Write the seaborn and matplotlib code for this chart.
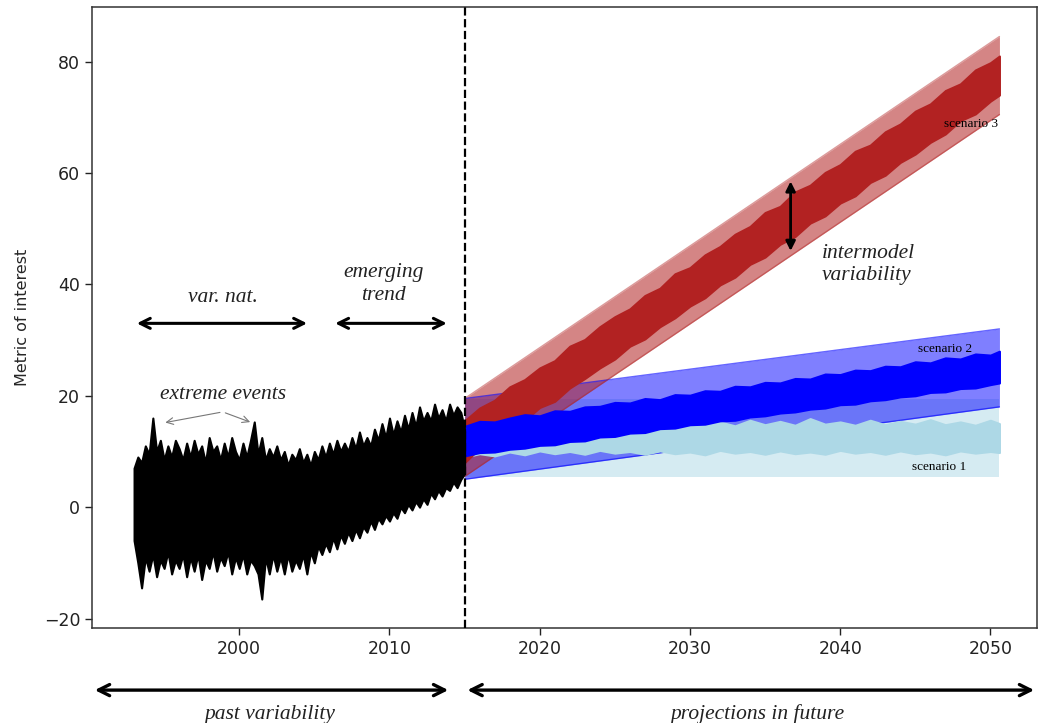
import numpy as np
import pandas as pd
import matplotlib
matplotlib.use("Agg")
import matplotlib.pyplot as plt
import seaborn as sns

# ---------------- data ----------------
# past series: upper / lower envelope every quarter year, 1993.00 .. 2015.00
past_years = np.arange(1993.0, 2015.001, 0.25)
past_hi = [7, 9, 8, 11, 9.5, 16, 10, 12, 8.5, 11, 9, 12,
           10.5, 8.5, 11.5, 9, 12, 9.5, 11, 8, 12.5, 10, 11, 8.5,
           11.5, 9, 12.5, 10, 8.5, 11.5, 9, 12, 15.3, 9.5, 12.5, 8.5,
           10.5, 9, 11, 8.5, 10, 7.5, 9.5, 8.5, 10.5, 8, 9.5, 7.5,
           10, 8.5, 11, 9, 11.5, 9.5, 12, 10, 11.5, 10, 12.5, 10.5,
           13.5, 11, 12.5, 11, 14, 12, 15, 12.5, 16, 13, 15.5, 13.5,
           16.5, 14, 17, 14.5, 18, 15.5, 17, 15.5, 18.5, 16, 17.5, 15.5,
           18.5, 16.5, 18, 17, 14]
past_lo = [-6, -10, -14.5, -9, -11.5, -8.5, -12.5, -9.5, -11, -8, -12, -9.5,
           -11, -8.5, -12.5, -9, -11.5, -8.5, -13, -9.5, -11, -8, -11.5, -9,
           -10.5, -8, -12, -9, -11, -8.5, -12, -9.5, -10.5, -12, -16.5, -9,
           -12, -8.5, -11.5, -9, -12, -8.5, -11.5, -9.5, -11, -8.5, -12, -8,
           -10, -7, -8.5, -6.5, -8, -5.5, -7.5, -5, -6.5, -4.5, -6, -4,
           -5.5, -3.5, -4.5, -2.5, -4, -2, -3, -1.5, -2.5, -1, -2, 0,
           -1, 0.5, -0.5, 1, 0, 1.5, 0.5, 2.5, 1.5, 3, 2, 3.5,
           3, 4.5, 3.5, 5, 6]

scen_years = [2015, 2016, 2017, 2018, 2019, 2020, 2021, 2022, 2023, 2024,
              2025, 2026, 2027, 2028, 2029, 2030, 2031, 2032, 2033, 2034,
              2035, 2036, 2037, 2038, 2039, 2040, 2041, 2042, 2043, 2044,
              2045, 2046, 2047, 2048, 2049, 2050, 2050.6]

s3_hi = [15.5, 17.8, 19.2, 21.6, 22.9, 25.0, 26.3, 28.9, 30.1, 32.4, 34.2, 35.6, 38.0, 39.3,
         41.9, 43.0, 45.3, 46.8, 49.0, 50.4, 52.9, 54.0, 56.6, 57.8, 60.1, 61.5, 63.9, 65.0,
         67.4, 68.8, 71.1, 72.4, 74.8, 76.0, 78.5, 79.8, 81.0]
s3_lo = [8.0, 10.6, 11.9, 14.2, 15.6, 17.9, 19.0, 21.4, 23.1, 25.0, 26.6, 28.9, 30.2, 32.4,
         34.0, 36.1, 37.6, 39.9, 41.3, 43.6, 44.9, 47.2, 48.6, 51.0, 52.3, 54.6, 55.9, 58.3,
         59.6, 61.9, 63.4, 65.5, 67.0, 69.4, 70.6, 72.9, 74.0]

s2_hi = [14.5, 15.4, 15.3, 16.0, 16.6, 16.4, 17.3, 17.2, 18.0, 18.1, 18.8, 18.7, 19.5, 19.3,
         20.2, 20.1, 20.9, 20.8, 21.7, 21.6, 22.4, 22.3, 23.1, 23.0, 23.9, 23.8, 24.6, 24.5,
         25.3, 25.2, 26.1, 25.9, 26.8, 26.6, 27.5, 27.3, 28.0]
s2_lo = [9.2, 9.8, 9.9, 10.4, 10.6, 11.1, 11.2, 11.8, 11.9, 12.6, 12.7, 13.3, 13.4, 14.1,
         14.2, 14.8, 14.9, 15.5, 15.6, 16.2, 16.4, 16.9, 17.1, 17.6, 17.8, 18.4, 18.5, 19.1,
         19.3, 19.8, 20.0, 20.6, 20.7, 21.3, 21.4, 22.0, 22.3]

s1_hi = [12.5, 13.8, 13.2, 14.6, 14.0, 15.2, 14.5, 15.6, 14.8, 15.3, 14.6, 15.7, 14.9, 15.4,
         14.7, 15.8, 14.9, 15.3, 14.6, 15.6, 14.8, 15.4, 14.7, 15.9, 14.9, 15.3, 14.7, 15.6,
         14.8, 15.4, 14.9, 15.7, 14.8, 15.3, 14.7, 15.6, 15.0]
s1_lo = [9.0, 9.6, 9.2, 9.9, 9.4, 10.1, 9.6, 10.0, 9.5, 10.2, 9.7, 10.0, 9.5, 10.1,
         9.6, 9.9, 9.4, 10.2, 9.7, 10.0, 9.5, 10.1, 9.6, 9.9, 9.5, 10.2, 9.7, 10.0,
         9.5, 10.1, 9.6, 9.9, 9.4, 10.1, 9.7, 10.0, 9.8]

band_years = [2015, 2050.6]
s3_band_lo = [5.5, 70.5]
s3_band_hi = [19.5, 84.5]
s2_band_lo = [5.0, 18.0]
s2_band_hi = [19.5, 32.0]
s1_band_lo = [5.5, 5.5]
s1_band_hi = [19.5, 19.5]

x_ticks = [2000, 2010, 2020, 2030, 2040, 2050]
y_ticks = [-20, 0, 20, 40, 60, 80]
split_year = 2015

# ---------------- figure ----------------
sns.set_theme(style="ticks")
plt.rcParams['font.family'] = ['DejaVu Sans']
serif = ['Liberation Serif', 'DejaVu Serif']

fig = plt.figure(figsize=(10.39, 7.23), dpi=100)
ax = fig.add_axes([92 / 1039, 95 / 723, 945 / 1039, 621 / 723])

# bands (fills)
ax.fill_between(band_years, s1_band_lo, s1_band_hi, color="lightblue", alpha=0.5, lw=0, zorder=1)
ax.fill_between(band_years, s2_band_lo, s2_band_hi, color="blue", alpha=0.5, lw=0, zorder=2)
ax.fill_between(band_years, s3_band_lo, s3_band_hi, color="firebrick", alpha=0.55, lw=0, zorder=3)
# band edges via seaborn
for lo, hi, c, a in [(s2_band_lo, s2_band_hi, "blue", 0.6), (s3_band_lo, s3_band_hi, "firebrick", 0.45)]:
    sns.lineplot(x=band_years, y=lo, color=c, alpha=a, lw=1, ax=ax, zorder=3)
    sns.lineplot(x=band_years, y=hi, color=c, alpha=a, lw=1, ax=ax, zorder=3)

# noisy scenario lines (envelopes)
ax.fill_between(scen_years, s1_lo, s1_hi, color="lightblue", lw=1.5,
                edgecolor="lightblue", zorder=4)
ax.fill_between(scen_years, s3_lo, s3_hi, color="firebrick", lw=1.5,
                edgecolor="firebrick", zorder=5)
ax.fill_between(scen_years, s2_lo, s2_hi, color="blue", lw=1.5,
                edgecolor="blue", zorder=6)

# past black series
ax.fill_between(past_years, past_lo, past_hi, color="black", lw=1.5,
                edgecolor="black", zorder=7)

# dashed split line
ax.axvline(split_year, color="black", ls="--", lw=1.6, zorder=8)

ax.set_xlim(1990.2, 2053.1)
ax.set_ylim(-21.7, 89.8)
ax.set_xticks(x_ticks)
ax.set_yticks(y_ticks)
ax.tick_params(axis="both", labelsize=12.5, length=5, width=1, colors="#222222")
ax.set_ylabel("Metric of interest", fontsize=11.5, labelpad=10)
for s in ax.spines.values():
    s.set_linewidth(1.1)
    s.set_color("#333333")

tk = dict(fontsize=15.5, style="italic", family=serif, color="#222222")
arrow_kw = dict(arrowstyle="<->", lw=2.2, color="black", mutation_scale=18)

ax.annotate("", xy=(1993.0, 33), xytext=(2004.7, 33), arrowprops=arrow_kw)
ax.text(1998.9, 37.6, "var. nat.", ha="center", va="center", **tk)
ax.annotate("", xy=(2006.2, 33), xytext=(2014.0, 33), arrowprops=arrow_kw)
ax.text(2009.6, 40.1, "emerging\ntrend", ha="center", va="center", linespacing=1.25, **tk)

ax.text(1998.9, 20.3, "extreme events", ha="center", va="center", **tk)
thin = dict(arrowstyle="->", lw=0.8, color="#777777")
ax.annotate("", xy=(1994.9, 15.1), xytext=(1998.9, 17.1), arrowprops=thin)
ax.annotate("", xy=(2000.9, 15.1), xytext=(1998.9, 17.1), arrowprops=thin)

ax.annotate("", xy=(2036.7, 59.0), xytext=(2036.7, 45.5),
            arrowprops=dict(arrowstyle="<|-|>", lw=2.0, color="black", mutation_scale=14), zorder=9)
ax.text(2038.8, 43.6, "intermodel\nvariability", ha="left", va="center", linespacing=1.25, **tk)

sk = dict(fontsize=9.5, family=serif, color="black", zorder=10)
ax.text(2050.5, 68.8, "scenario 3", ha="right", va="center", **sk)
ax.text(2048.8, 28.4, "scenario 2", ha="right", va="center", **sk)
ax.text(2048.4, 7.2, "scenario 1", ha="right", va="center", **sk)

# bottom arrows (below the axes)
bk = dict(arrowstyle="<->", lw=2.4, color="black", mutation_scale=20)
ax.annotate("", xy=(1990.2, -0.10), xytext=(2014.1, -0.10), xycoords=("data", "axes fraction"),
            textcoords=("data", "axes fraction"), arrowprops=bk, annotation_clip=False)
ax.annotate("", xy=(2015.0, -0.10), xytext=(2053.1, -0.10), xycoords=("data", "axes fraction"),
            textcoords=("data", "axes fraction"), arrowprops=bk, annotation_clip=False)
ax.text(2002.0, -0.1385, "past variability", transform=ax.get_xaxis_transform(),
        ha="center", va="center", clip_on=False, **tk)
ax.text(2034.5, -0.1385, "projections in future", transform=ax.get_xaxis_transform(),
        ha="center", va="center", clip_on=False, **tk)

fig.savefig("out.png", dpi=100)
